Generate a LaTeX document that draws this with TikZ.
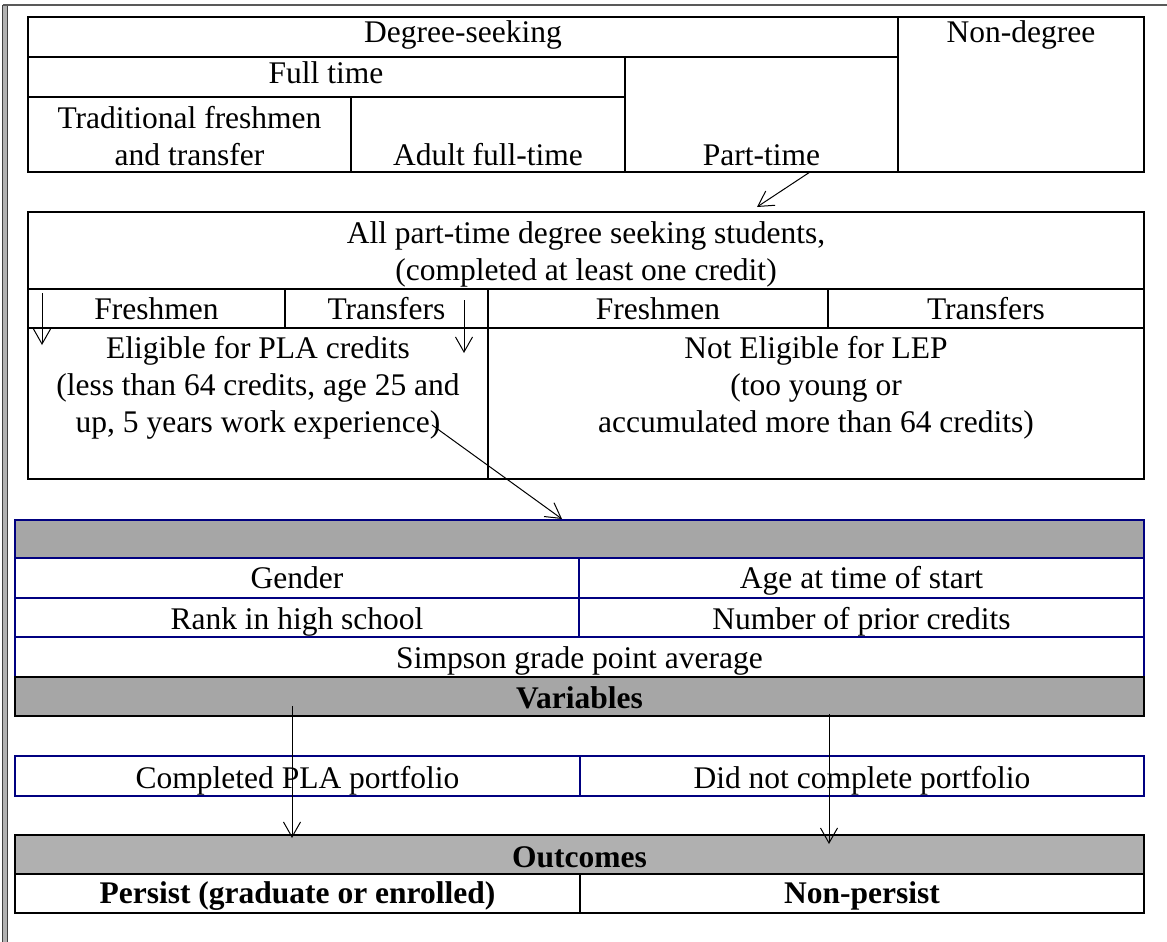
\documentclass[tikz,border=0pt]{standalone}
\usepackage{fontspec}
\setmainfont{Liberation Serif}
\usetikzlibrary{arrows.meta}

\definecolor{navyline}{RGB}{0,0,128}
\definecolor{barA}{RGB}{166,166,166}
\definecolor{barB}{RGB}{176,176,176}

\tikzset{
  tabline/.style={line width=1.8pt, draw=black},
  blueline/.style={line width=1.6pt, draw=navyline},
  lbl/.style={inner sep=0pt, anchor=base, font=\fontsize{31.5}{37}\selectfont},
  blbl/.style={inner sep=0pt, anchor=base, font=\fontsize{31.5}{37}\selectfont\bfseries},
  flow/.style={line width=1pt, -{Straight Barb[length=15pt,width=17pt]}},
}

\begin{document}
\begin{tikzpicture}[x=1pt,y=-1pt]
\useasboundingbox (0,0) rectangle (1167,942);

% page frame
\fill[black!30] (2.5,5) rectangle (7.5,942);
\draw[line width=1pt, black!75] (2.5,5) -- (2.5,942);
\draw[line width=1pt, black!75] (7.5,5) -- (7.5,942);
\draw[line width=2.2pt, black!65] (2.5,5) -- (1167,5);

% ---------- enrolment categories ----------
\draw[tabline] (28,17) rectangle (1144,172);
\draw[tabline] (28,57) -- (898,57);
\draw[tabline] (898,17) -- (898,172);
\draw[tabline] (28,97) -- (625,97);
\draw[tabline] (625,57) -- (625,172);
\draw[tabline] (351,97) -- (351,172);

\node[lbl] (deg)     at (463,43)    {Degree-seeking};
\node[lbl] (nondeg)  at (1021,43)   {Non-degree};
\node[lbl] (full)    at (326,83)    {Full time};
\node[lbl] (trad1)   at (189.5,128) {Traditional freshmen};
\node[lbl] (trad2)   at (189.5,165) {and transfer};
\node[lbl] (adult)   at (488,165)   {Adult full-time};
\node[lbl] (part)    at (761.5,165) {Part-time};

% ---------- part-time students ----------
\draw[tabline] (28,212) rectangle (1144,479);
\draw[tabline] (28,289) -- (1144,289);
\draw[tabline] (28,328) -- (1144,328);
\draw[tabline] (488,289) -- (488,479);
\draw[tabline] (285,289) -- (285,328);
\draw[tabline] (828,289) -- (828,328);

\node[lbl] (allpt1) at (586,243) {All part-time degree seeking students,};
\node[lbl] (allpt2) at (586,280) {(completed at least one credit)};
\node[lbl] (fresh1) at (156.5,319) {Freshmen};
\node[lbl] (trans1) at (386.5,319) {Transfers};
\node[lbl] (fresh2) at (658,319)   {Freshmen};
\node[lbl] (trans2) at (986,319)   {Transfers};
\node[lbl] (elig1) at (258,358) {Eligible for PLA credits};
\node[lbl] (elig2) at (258,395) {(less than 64 credits, age 25 and};
\node[lbl] (elig3) at (258,432) {up, 5 years work experience)};
\node[lbl] (notel1) at (816,358) {Not Eligible for LEP};
\node[lbl] (notel2) at (816,395) {(too young or};
\node[lbl] (notel3) at (816,432) {accumulated more than 64 credits)};

% ---------- variables ----------
\fill[barA] (15,520) rectangle (1144,558);
\draw[blueline] (15,520) rectangle (1144,677);
\draw[blueline] (15,558) -- (1144,558);
\draw[blueline] (15,598) -- (1144,598);
\draw[blueline] (15,637) -- (1144,637);
\draw[blueline] (579,558) -- (579,637);
\filldraw[tabline, fill=barA] (15,677) rectangle (1144,716);

\node[lbl] (gender)  at (297,588)   {Gender};
\node[lbl] (age)     at (861.5,588) {Age at time of start};
\node[lbl] (rank)    at (297,629)   {Rank in high school};
\node[lbl] (prior)   at (861.5,629) {Number of prior credits};
\node[lbl] (simpson) at (579.5,668) {Simpson grade point average};
\node[blbl] (vars)   at (579.5,708) {Variables};

% ---------- portfolio ----------
\draw[blueline] (15,756) rectangle (1144,796);
\draw[blueline] (580,756) -- (580,796);
\node[lbl] (compl)  at (297.5,788) {Completed PLA portfolio};
\node[lbl] (nocomp) at (862,788)   {Did not complete portfolio};

% ---------- outcomes ----------
\filldraw[tabline, fill=barB] (15,835) rectangle (1144,874);
\draw[tabline] (15,874) rectangle (1144,913);
\draw[tabline] (580,874) -- (580,913);
\node[blbl] (outc)    at (579.5,867) {Outcomes};
\node[blbl] (persist) at (297.5,903) {Persist (graduate or enrolled)};
\node[blbl] (nonper)  at (862,903)   {Non-persist};

% ---------- arrows ----------
\coordinate (a1s) at (810,172);
\coordinate (a1e) at (757,207);
\coordinate (a2s) at (42,293);
\coordinate (a2e) at (42,345);
\coordinate (a3s) at (464,300);
\coordinate (a3e) at (464,353);
\coordinate (a4s) at (432,425);
\coordinate (a4e) at (562,519);
\coordinate (a5s) at (292,706);
\coordinate (a5e) at (292,838);
\coordinate (a6s) at (829,714);
\coordinate (a6e) at (829,844);

\draw[flow] (a1s) -- (a1e);
\draw[flow] (a2s) -- (a2e);
\draw[flow] (a3s) -- (a3e);
\draw[flow] (a4s) -- (a4e);
\draw[flow] (a5s) -- (a5e);
\draw[flow] (a6s) -- (a6e);
\end{tikzpicture}
\end{document}
